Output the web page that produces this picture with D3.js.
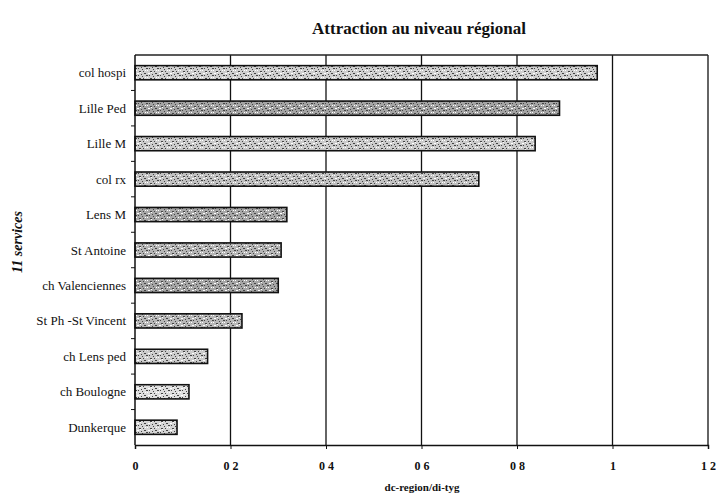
<!DOCTYPE html>
<html>
<head>
<meta charset="utf-8">
<script src="https://cdn.jsdelivr.net/npm/d3@7"></script>
<style>
  body { margin: 0; background: #fff; }
  text { font-family: "Liberation Serif", "DejaVu Serif", serif; fill: #111; }
</style>
</head>
<body>
<svg id="chart" width="718" height="497"></svg>
<script>
const services = ['col hospi', 'Lille Ped', 'Lille M', 'col rx', 'Lens M', 'St Antoine',
  'ch Valenciennes', 'St Ph -St Vincent', 'ch Lens ped', 'ch Boulogne', 'Dunkerque']
const ratio = [0.968, 0.889, 0.838, 0.72, 0.318, 0.306, 0.30, 0.224, 0.152, 0.113, 0.088]
const xTicks = [0, 0.2, 0.4, 0.6, 0.8, 1, 1.2]
const xTickLabels = ['0', '0 2', '0 4', '0 6', '0 8', '1', '1 2']
const shade = ['#cfcfcf', '#a4a4a4', '#cbcbcb', '#c2c2c2', '#a8a8a8', '#b6b6b6',
  '#a6a6a6', '#b8b8b8', '#cccccc', '#dedede', '#d4d4d4']

const svg = d3.select('#chart')
const margin = {top: 55, right: 10, bottom: 52, left: 135}
const width = 718 - margin.left - margin.right
const height = 497 - margin.top - margin.bottom

const x = d3.scaleLinear().domain([0, 1.2]).range([0, width])
const y = d3.scaleBand().domain(services).range([0, height]).paddingInner(0.6).paddingOuter(0.3)
const yOuter = d3.scaleBand().domain(services).range([0, height])

// speckle texture on top of each bar's grey
const defs = svg.append('defs')
const pat = defs.append('pattern').attr('id', 'speck')
  .attr('patternUnits', 'userSpaceOnUse').attr('width', 11).attr('height', 7)
const dots = [[1,1],[4,2],[7,0],[2,4],[6,5],[0,6],[5,3],[9,4],[3,6],[10,1],[8,2]]
dots.forEach(([a, b], i) => pat.append('rect').attr('x', a).attr('y', b)
  .attr('width', 1 + (i % 2)).attr('height', 1)
  .attr('fill', i % 3 === 0 ? '#fff' : '#444'))

const g = svg.append('g').attr('transform', `translate(${margin.left},${margin.top})`)

// vertical gridlines
g.selectAll('.grid').data(xTicks.slice(1)).enter().append('line')
  .attr('x1', d => x(d)).attr('x2', d => x(d))
  .attr('y1', 0).attr('y2', height)
  .attr('stroke', '#111').attr('stroke-width', 1.3)

// frame top
g.append('line').attr('x1', 0).attr('x2', width).attr('y1', 0).attr('y2', 0)
  .attr('stroke', '#222').attr('stroke-width', 1.5)

// bars
const bars = g.selectAll('.bar').data(services).enter().append('g')
bars.append('rect')
  .attr('x', 0).attr('y', d => y(d))
  .attr('width', (d, i) => x(ratio[i])).attr('height', y.bandwidth())
  .attr('fill', (d, i) => shade[i])
bars.append('rect')
  .attr('x', 0).attr('y', d => y(d))
  .attr('width', (d, i) => x(ratio[i])).attr('height', y.bandwidth())
  .attr('fill', 'url(#speck)').attr('stroke', '#111').attr('stroke-width', 1.6)

// x axis
const xAxis = g.append('g').attr('transform', `translate(0,${height})`)
  .call(d3.axisBottom(x).tickValues(xTicks).tickFormat((d, i) => xTickLabels[i]).tickSize(4).tickPadding(12))
xAxis.select('.domain').attr('stroke', '#111').attr('stroke-width', 1.5)
xAxis.selectAll('line').attr('stroke', '#111')
xAxis.selectAll('text').style('font-size', '12px').style('font-weight', 'bold')

// y axis with ticks at band edges
const yAxis = g.append('g')
yAxis.append('line').attr('x1', 0).attr('x2', 0).attr('y1', 0).attr('y2', height)
  .attr('stroke', '#111').attr('stroke-width', 1.5)
yAxis.selectAll('.tk').data(services.slice(1)).enter().append('line')
  .attr('x1', -4).attr('x2', 0)
  .attr('y1', d => yOuter(d)).attr('y2', d => yOuter(d))
  .attr('stroke', '#111')
yAxis.selectAll('.lbl').data(services).enter().append('text')
  .attr('x', -9).attr('y', d => y(d) + y.bandwidth() / 2)
  .attr('dy', '0.35em').attr('text-anchor', 'end')
  .style('font-size', '13px').text(d => d)

// titles
svg.append('text').attr('x', 419).attr('y', 34).attr('text-anchor', 'middle')
  .style('font-size', '17px').style('font-weight', 'bold').text('Attraction au niveau régional')
svg.append('text').attr('x', 422).attr('y', 491).attr('text-anchor', 'middle')
  .style('font-size', '11px').style('font-weight', 'bold').text('dc-region/di-tyg')
svg.append('text').attr('transform', `translate(22,242) rotate(-90)`)
  .attr('text-anchor', 'middle').style('font-size', '14px').style('font-weight', 'bold')
  .style('font-style', 'italic').text('11 services')
</script>
</body>
</html>
